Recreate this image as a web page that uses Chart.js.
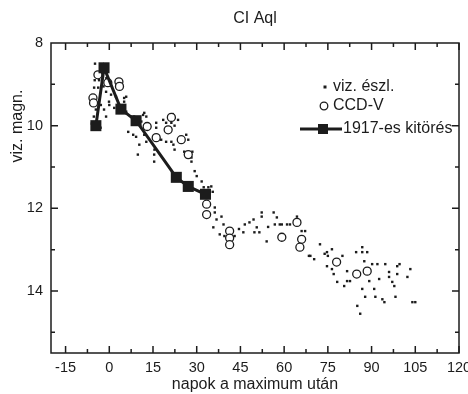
<!DOCTYPE html>
<html>
	<head>
		<meta charset="UTF-8">
		<title>CI Aql</title>
		<script src="https://cdn.jsdelivr.net/npm/chart.js@4.4.1/dist/chart.umd.min.js"></script>
		<style>
			body { margin: 0; background: #fff; }
			#box { width: 468px; height: 394px; }
		</style>
	</head>
	<body>
		<div id="box"><canvas id="myChart" width="468" height="394"></canvas></div>
	<script>
		// vizuális észlelések (napok, magnitúdó)
		var vizDays = [-4.9,-4.6,-5.0,-3.5,-5.2,-3.8,-1.1,0.6,2.3,-0.1,-2.9,-1.8,-4.6,-5.3,-1.1,-2.0,-1.0,-6.0,-3.0,0.0,
			5.1,5.8,5.1,1.7,3.3,5.8,8.5,11.6,11.0,6.5,8.2,9.2,12.0,12.7,10.3,9.8,
			12.0,12.7,16.1,16.1,18.5,19.5,21.3,22.4,22.4,23.6,21.8,17.8,19.5,21.3,22.0,22.4,15.4,15.4,15.5,26.4,27.1,25.7,28.5,28.2,28.2,29.3,30.0,31.7,32.4,34.0,
			35.0,35.5,36.2,36.2,36.8,35.7,38.5,39.2,37.9,39.5,43.0,44.5,
			46.0,46.5,48.1,49.5,49.8,50.6,51.5,52.3,52.3,54.0,54.5,56.4,56.8,57.5,58.5,59.2,61.0,62.0,64.4,67.2,66.0,68.5,70.3,69.0,72.3,74.7,
			73.9,75.0,76.4,80.0,74.7,76.4,77.0,78.2,80.6,81.6,81.6,82.6,84.7,86.8,86.8,88.5,87.5,90.2,92.0,94.7,96.0,96.0,92.6,89.2,86.8,90.9,87.8,91.3,93.7,94.4,85.1,86.1,
			98.8,98.8,97.1,99.6,102.3,103.3,97.8,98.2,104.0,105.0];
		var vizMag = [8.50,8.77,8.90,8.90,9.08,9.08,9.18,9.25,9.30,9.42,9.50,9.61,9.61,9.78,9.78,9.05,8.85,9.95,10.05,9.50,
			9.33,9.30,9.42,9.57,9.69,9.66,9.78,9.74,9.90,10.15,10.22,10.27,10.22,10.39,10.46,10.70,
			9.69,9.78,9.93,10.05,9.86,9.93,9.93,9.81,10.00,9.86,9.72,10.34,10.39,10.39,10.46,10.58,10.70,10.87,10.58,10.22,10.34,10.63,10.63,10.77,10.87,11.10,11.22,11.35,11.49,11.49,
			11.47,11.60,11.98,12.10,12.27,12.46,12.20,12.39,12.63,12.67,12.67,12.50,
			12.58,12.39,12.34,12.27,12.58,12.46,12.58,12.10,12.20,12.80,12.45,12.10,12.39,12.22,12.39,12.39,12.39,12.39,12.20,12.55,12.55,13.15,13.23,13.15,12.87,13.06,
			13.10,13.15,12.99,13.15,13.40,13.47,13.59,13.78,13.88,13.76,13.52,13.76,13.06,13.06,12.94,13.06,13.28,13.35,13.35,13.35,13.54,13.66,13.71,13.76,13.95,13.95,14.14,14.14,14.20,14.27,14.36,14.55,
			13.40,13.59,13.78,13.35,13.66,13.47,13.88,14.14,14.27,14.27];

		// CCD-V mérések
		var ccdDays = [-3.9,-0.5,3.3,3.5,-5.6,-5.4,13.0,16.1,21.3,20.2,24.7,27.1,33.4,33.4,41.3,41.3,41.3,64.4,59.2,66.0,65.4,78.0,84.9,88.5];
		var ccdMag = [8.77,8.96,8.94,9.05,9.33,9.45,10.02,10.29,9.80,10.10,10.34,10.70,11.90,12.15,12.55,12.72,12.88,12.34,12.70,12.75,12.94,13.30,13.59,13.52];

		// 1917-es kitörés
		var oldDays = [-4.6,-1.8,4.0,9.2,23.0,27.1,33.0];
		var oldMag = [10.0,8.6,9.6,9.88,11.25,11.47,11.66];

		var xTicks = [-15,0,15,30,45,60,75,90,105,120];
		var yTicks = [8,10,12,14];

		function pairs(xs, ys){
			var out = [];
			for(var i=0;i<xs.length;i++){
				out.push({x: xs[i], y: ys[i]});
			}
			return out;
		}

		var ink = '#1c1c1c';
		Chart.defaults.font.family = "'Liberation Sans', Arial, sans-serif";
		Chart.defaults.color = ink;

		// keret, befelé mutató osztások, cím, legenda
		var frame = {
			id: 'frame',
			beforeDatasetsDraw: function(chart){
				var c = chart.ctx, a = chart.chartArea, sx = chart.scales.x, sy = chart.scales.y;
				c.save();
				c.strokeStyle = ink;
				c.lineWidth = 1.5;
				c.strokeRect(a.left, a.top, a.right - a.left, a.bottom - a.top);
				c.beginPath();
				for(var v=-15; v<=120; v+=7.5){
					var px = sx.getPixelForValue(v);
					var len = (v % 15 == 0) ? 7 : 4;
					c.moveTo(px, a.bottom); c.lineTo(px, a.bottom - len);
					c.moveTo(px, a.top); c.lineTo(px, a.top + len);
				}
				for(var m=9; m<=15; m+=1){
					var py = sy.getPixelForValue(m);
					var l2 = (m % 2 == 0) ? 7 : 4;
					c.moveTo(a.left, py); c.lineTo(a.left + l2, py);
					c.moveTo(a.right, py); c.lineTo(a.right - l2, py);
				}
				c.stroke();
				c.restore();
			},
			afterDraw: function(chart){
				var c = chart.ctx, a = chart.chartArea;
				c.save();
				c.fillStyle = ink;
				c.strokeStyle = ink;
				c.font = "16px 'Liberation Sans', Arial, sans-serif";
				c.textBaseline = 'middle';
				c.textAlign = 'center';
				c.fillText('CI Aql', (a.left + a.right) / 2, 19);

				c.save();
				c.translate(18, 126);
				c.rotate(-Math.PI / 2);
				c.fillText('viz. magn.', 0, 0);
				c.restore();

				// legenda
				c.textAlign = 'left';
				var lx = a.right - 134;
				c.fillRect(lx - 1.5, a.top + 44 - 1.5, 3, 3);
				c.fillText('viz. észl.', lx + 8, a.top + 44);

				c.beginPath();
				c.lineWidth = 1.3;
				c.arc(lx - 1, a.top + 63, 3.8, 0, Math.PI * 2);
				c.stroke();
				c.fillText('CCD-V', lx + 8, a.top + 63);

				var ry = a.top + 86;
				c.beginPath();
				c.lineWidth = 3;
				c.moveTo(lx - 25, ry); c.lineTo(lx + 17, ry);
				c.stroke();
				c.fillRect(lx - 7, ry - 5, 10, 10);
				c.fillText('1917-es kitörés', lx + 18, ry);
				c.restore();
			}
		};

		var ctx = document.getElementById('myChart').getContext('2d');
		var myChart = new Chart(ctx, {
			type: 'scatter',
			data: {
				datasets: [
					{
						label: '1917-es kitörés',
						data: pairs(oldDays, oldMag),
						showLine: true,
						borderColor: ink,
						borderWidth: 3,
						backgroundColor: ink,
						pointStyle: 'rect',
						pointRadius: 7.8,
						pointBorderWidth: 0,
						order: 0
					},
					{
						label: 'CCD-V',
						data: pairs(ccdDays, ccdMag),
						pointStyle: 'circle',
						pointRadius: 4,
						pointBorderWidth: 1.3,
						borderColor: ink,
						backgroundColor: '#fff',
						order: 1
					},
					{
						label: 'viz. észl.',
						data: pairs(vizDays, vizMag),
						pointStyle: 'rect',
						pointRadius: 1.7,
						pointBorderWidth: 0,
						backgroundColor: ink,
						order: 2
					}
				]
			},
			options: {
				responsive: false,
				animation: false,
				layout: { padding: { top: 43, right: 9, left: 0, bottom: 0 } },
				plugins: {
					legend: { display: false },
					title: { display: false },
					tooltip: { enabled: false }
				},
				scales: {
					x: {
						type: 'linear',
						min: -20,
						max: 120,
						grid: { display: false, drawTicks: false },
						border: { display: false },
						ticks: { font: { size: 14.5 }, padding: 6, maxRotation: 0 },
						afterBuildTicks: function(s){
							s.ticks = xTicks.map(function(v){ return {value: v}; });
						},
						afterFit: function(s){
							s.height = 41;
							s.paddingLeft = 0;
							s.paddingRight = 0;
						},
						title: {
							display: true,
							text: 'napok a maximum után',
							font: { size: 16 },
							padding: { top: 0, bottom: 0 }
						}
					},
					y: {
						type: 'linear',
						reverse: true,
						min: 8,
						max: 15.5,
						grid: { display: false, drawTicks: false },
						border: { display: false },
						ticks: { font: { size: 14.5 }, padding: 8 },
						afterBuildTicks: function(s){
							s.ticks = yTicks.map(function(v){ return {value: v}; });
						},
						afterFit: function(s){
							s.width = 51;
						}
					}
				}
			},
			plugins: [frame]
		});
	</script>
	</body>
</html>
